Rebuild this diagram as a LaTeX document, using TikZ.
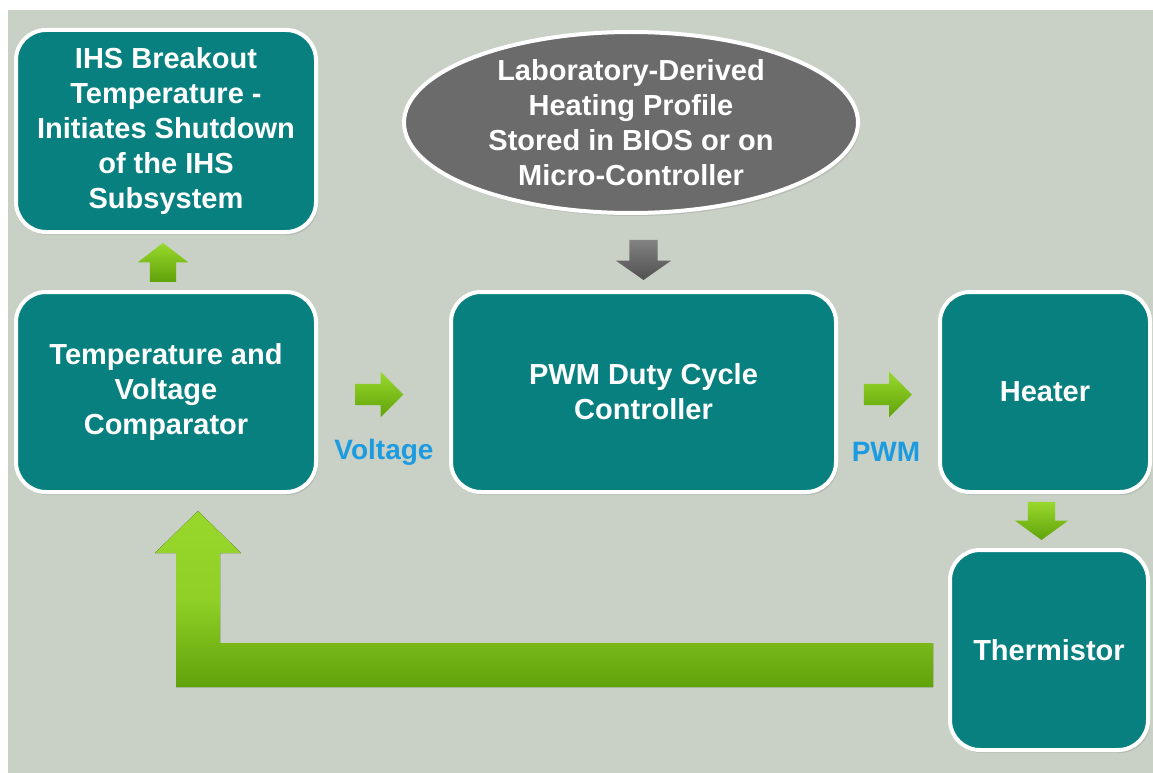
\documentclass[tikz,border=0pt]{standalone}
\usepackage{fontspec}
\setmainfont{Liberation Sans}
\usetikzlibrary{shapes,arrows,positioning,shadows}

\definecolor{bggray}{RGB}{201,209,198}
\definecolor{boxteal}{RGB}{8,128,128}
\definecolor{ovalgray}{RGB}{107,107,107}
\definecolor{lgreen}{RGB}{152,216,44}
\definecolor{dgreen}{RGB}{96,162,10}
\definecolor{lgray}{RGB}{130,130,130}
\definecolor{dgray}{RGB}{80,80,80}
\definecolor{lblue}{RGB}{28,155,224}

\tikzset{
	box/.style={draw=white, line width=4pt, fill=boxteal, rounded corners=30pt,
		text=white, align=center, inner sep=0pt,
		font=\bfseries\fontsize{29}{35}\selectfont,
		drop shadow={opacity=0.25, shadow xshift=2pt, shadow yshift=-3pt}},
	oval/.style={ellipse, draw=white, line width=4pt, fill=ovalgray, inner sep=0pt,
		text=white, align=center, font=\bfseries\fontsize{29}{35}\selectfont,
		drop shadow={opacity=0.25, shadow xshift=2pt, shadow yshift=-3pt}},
	garrow/.style={single arrow, draw=none, inner xsep=0pt,
		top color=lgreen, bottom color=dgreen},
	karrow/.style={single arrow, draw=none, inner xsep=0pt,
		top color=lgray, bottom color=dgray},
	lbl/.style={text=lblue, font=\bfseries\fontsize{28}{34}\selectfont}
}

\begin{document}
\begin{tikzpicture}[x=1pt, y=1pt]
	\useasboundingbox (0,0) rectangle (1153,-773);
	\fill[bggray] (8,-10) rectangle (1153,-773);

	\node[box, minimum width=300pt, minimum height=202pt] (ihs) at (166,-131)
		{IHS Breakout\\Temperature -\\Initiates Shutdown\\of the IHS\\Subsystem};
	\node[box, minimum width=300pt, minimum height=200pt] (comp) at (166,-392)
		{Temperature and\\Voltage\\Comparator};
	\node[box, minimum width=385pt, minimum height=200pt] (ctrl) at (643.5,-392)
		{PWM Duty Cycle\\Controller};
	\node[box, minimum width=210pt, minimum height=200pt] (heater) at (1045,-392) {Heater};
	\node[box, minimum width=198pt, minimum height=200pt] (therm) at (1049,-650) {Thermistor};
	\node[oval, minimum width=454pt, minimum height=181pt] (profile) at (631,-122.5)
		{Laboratory-Derived\\Heating Profile\\Stored in BIOS or on\\Micro-Controller};

	\node[lbl] (volt) at (384,-452) {Voltage};
	\node[lbl] (pwm) at (886,-452) {PWM};

	\node[garrow, inner ysep=10.5pt, minimum height=48pt, minimum width=45pt,
		single arrow head extend=12pt, single arrow tip angle=90] (a1) at (374,-394.5) {};
	\node[garrow, inner ysep=10.5pt, minimum height=48pt, minimum width=45pt,
		single arrow head extend=12pt, single arrow tip angle=90] (a2) at (882.5,-394.5) {};
	\node[garrow, rotate=90, inner ysep=13pt, minimum height=39pt, minimum width=50pt,
		single arrow head extend=12pt, single arrow tip angle=105] (a3) at (163,-267.5) {};
	\node[garrow, rotate=-90, inner ysep=13.5pt, minimum height=38pt, minimum width=53pt,
		single arrow head extend=13pt, single arrow tip angle=108] (a4) at (1041.5,-516) {};
	\node[karrow, rotate=-90, inner ysep=14pt, minimum height=40pt, minimum width=55pt,
		single arrow head extend=13.5pt, single arrow tip angle=110] (a5) at (643.5,-255) {};

	\fill[top color=lgreen, bottom color=dgreen, middle color=lgreen!85!dgreen]
		([shift={(-15,7)}]therm.west) -- ++(-713,0) -- ++(0,90) -- ++(21,0) -- ++(-43,42)
		-- ++(-43,-42) -- ++(21,0) -- ++(0,-134) -- ++(757,0) -- cycle;
\end{tikzpicture}
\end{document}
